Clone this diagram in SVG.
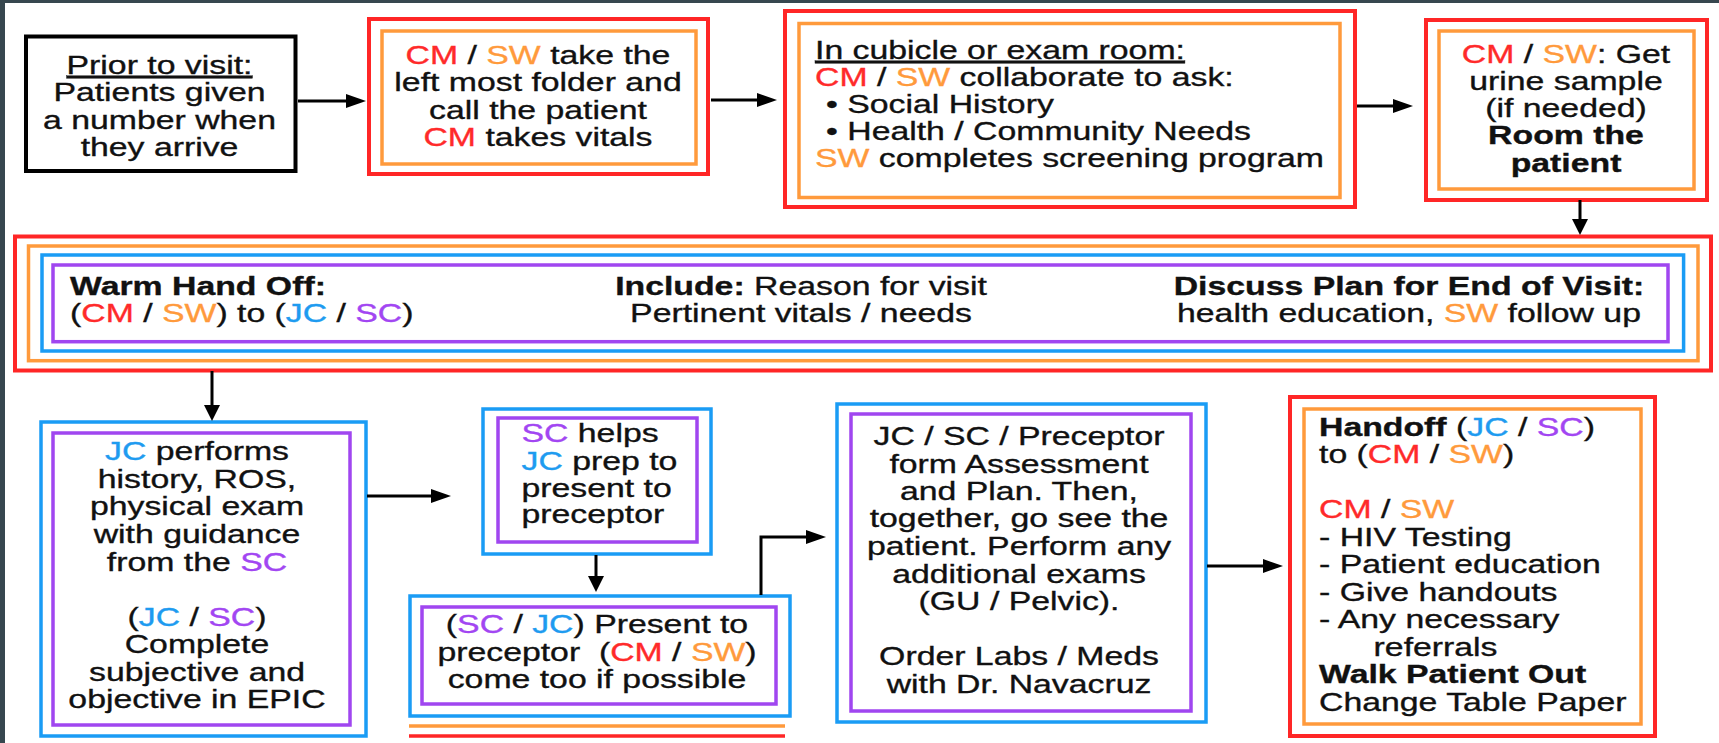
<svg xmlns="http://www.w3.org/2000/svg" width="1719" height="743" viewBox="0 0 1719 743">
<style>
text { font-family: "Liberation Sans", Arial, Helvetica, sans-serif; font-size: 26px; fill: #111; stroke: #111; stroke-width: 0.35; }
.c { text-anchor: middle; }
.b { font-weight: bold; }
.u { text-decoration: underline; }
.cm { fill: #ff2a2a; stroke: #ff2a2a; }
.sw { fill: #ff9a3c; stroke: #ff9a3c; }
.jc { fill: #1e9bf0; stroke: #1e9bf0; }
.sc { fill: #a246f2; stroke: #a246f2; }
.red { fill: none; stroke: #ff2626; stroke-width: 4; }
.org { fill: none; stroke: #ff9a3c; stroke-width: 3.5; }
.blu { fill: none; stroke: #1a9cf5; stroke-width: 3.5; }
.pur { fill: none; stroke: #a046f0; stroke-width: 3.5; }
.blk { fill: #fff; stroke: #000; stroke-width: 4; }
.conn path { fill: none; stroke: #000; stroke-width: 3; }
</style>
<defs>
<marker id="ahh" markerUnits="userSpaceOnUse" markerWidth="20" markerHeight="14" refX="14" refY="7" orient="auto"><path d="M0,0 L20,7 L0,14 z" fill="#000"/></marker>
<marker id="ahv" markerUnits="userSpaceOnUse" markerWidth="16" markerHeight="16" refX="11" refY="8" orient="auto"><path d="M0,0 L16,8 L0,16 z" fill="#000"/></marker>
</defs>
<rect x="0" y="0" width="1719" height="743" fill="#37474f"/>
<rect x="5" y="3" width="1714" height="740" fill="#fff"/>

<g id="n1">
<rect class="blk" x="26" y="36.5" width="269.5" height="134.5"/>
<g transform="translate(159.5,0) scale(1.3,1)">
<text class="c u" y="74">Prior to visit:</text>
<text class="c" y="101.5">Patients given</text>
<text class="c" y="129">a number when</text>
<text class="c" y="156">they arrive</text>
</g>
</g>

<g id="n2">
<rect class="red" x="369" y="19" width="339" height="155"/>
<rect class="org" x="382" y="31" width="314" height="133"/>
<g transform="translate(538,0) scale(1.3,1)">
<text class="c" y="64"><tspan class="cm">CM</tspan> / <tspan class="sw">SW</tspan> take the</text>
<text class="c" y="91.5">left most folder and</text>
<text class="c" y="119">call the patient</text>
<text class="c" y="146.5"><tspan class="cm">CM</tspan> takes vitals</text>
</g>
</g>

<g id="n3">
<rect class="red" x="785" y="11" width="570" height="196"/>
<rect class="org" x="799" y="23.5" width="541" height="174"/>
<g transform="translate(815,0) scale(1.3,1)">
<text class="u" y="59">In cubicle or exam room:</text>
<text y="86.5"><tspan class="cm">CM</tspan> / <tspan class="sw">SW</tspan> collaborate to ask:</text>
<text x="8.5" y="113">• Social History</text>
<text x="8.5" y="140">• Health / Community Needs</text>
<text y="167"><tspan class="sw">SW</tspan> completes screening program</text>
</g>
</g>

<g id="n4">
<rect class="red" x="1426" y="20" width="281" height="180"/>
<rect class="org" x="1439" y="31" width="255" height="158"/>
<g transform="translate(1566,0) scale(1.3,1)">
<text class="c" y="63"><tspan class="cm">CM</tspan> / <tspan class="sw">SW</tspan>: Get</text>
<text class="c" y="90">urine sample</text>
<text class="c" y="117">(if needed)</text>
<text class="c b" y="144.5">Room the</text>
<text class="c b" y="172">patient</text>
</g>
</g>

<g id="n5">
<rect class="red" x="15" y="236.5" width="1696" height="134"/>
<rect class="org" x="28.5" y="246" width="1669.5" height="114.7"/>
<rect class="blu" x="42" y="255" width="1641.6" height="96"/>
<rect class="pur" x="53" y="265" width="1615" height="76.7"/>
<g transform="translate(70,0) scale(1.3,1)">
<text class="b" y="295.5">Warm Hand Off:</text>
<text y="322.5">(<tspan class="cm">CM</tspan> / <tspan class="sw">SW</tspan>) to (<tspan class="jc">JC</tspan> / <tspan class="sc">SC</tspan>)</text>
</g>
<g transform="translate(801,0) scale(1.3,1)">
<text class="c" y="295.5"><tspan class="b">Include:</tspan> Reason for visit</text>
<text class="c" y="322.5">Pertinent vitals / needs</text>
</g>
<g transform="translate(1409,0) scale(1.3,1)">
<text class="c b" y="295.5">Discuss Plan for End of Visit:</text>
<text class="c" y="322.5">health education, <tspan class="sw">SW</tspan> follow up</text>
</g>
</g>

<g id="n6">
<rect class="blu" x="41" y="422" width="325" height="314"/>
<rect class="pur" x="53" y="433" width="297" height="292"/>
<g transform="translate(197,0) scale(1.3,1)">
<text class="c" y="460"><tspan class="jc">JC</tspan> performs</text>
<text class="c" y="488">history, ROS,</text>
<text class="c" y="515">physical exam</text>
<text class="c" y="543">with guidance</text>
<text class="c" y="571">from the <tspan class="sc">SC</tspan></text>
<text class="c" y="626">(<tspan class="jc">JC</tspan> / <tspan class="sc">SC</tspan>)</text>
<text class="c" y="653">Complete</text>
<text class="c" y="681">subjective and</text>
<text class="c" y="708">objective in EPIC</text>
</g>
</g>

<g id="n7">
<rect class="blu" x="483" y="409" width="228" height="145"/>
<rect class="pur" x="498" y="418" width="199" height="124"/>
<g transform="translate(521.5,0) scale(1.3,1)">
<text y="442"><tspan class="sc">SC</tspan> helps</text>
<text y="470"><tspan class="jc">JC</tspan> prep to</text>
<text y="497">present to</text>
<text y="523">preceptor</text>
</g>
</g>

<g id="n8">
<rect class="blu" x="410" y="596" width="380" height="120"/>
<rect class="pur" x="422" y="607" width="354" height="97"/>
<g transform="translate(597,0) scale(1.3,1)">
<text class="c" y="633">(<tspan class="sc">SC</tspan> / <tspan class="jc">JC</tspan>) Present to</text>
<text class="c" y="661" xml:space="preserve">preceptor  (<tspan class="cm">CM</tspan> / <tspan class="sw">SW</tspan>)</text>
<text class="c" y="688">come too if possible</text>
</g>
<line x1="409" y1="726" x2="785" y2="726" stroke="#ff9a3c" stroke-width="3.5"/>
<line x1="409" y1="736" x2="785" y2="736" stroke="#ff2626" stroke-width="3.5"/>
</g>

<g id="n9">
<rect class="blu" x="837" y="404" width="369" height="318"/>
<rect class="pur" x="851" y="414" width="340" height="297"/>
<g transform="translate(1019,0) scale(1.3,1)">
<text class="c" y="445">JC / SC / Preceptor</text>
<text class="c" y="473">form Assessment</text>
<text class="c" y="500">and Plan. Then,</text>
<text class="c" y="527">together, go see the</text>
<text class="c" y="555">patient. Perform any</text>
<text class="c" y="583">additional exams</text>
<text class="c" y="610">(GU / Pelvic).</text>
<text class="c" y="665">Order Labs / Meds</text>
<text class="c" y="693">with Dr. Navacruz</text>
</g>
</g>

<g id="n10">
<rect class="red" x="1290" y="397" width="365" height="339"/>
<rect class="org" x="1304" y="409" width="337" height="315"/>
<g transform="translate(1319,0) scale(1.3,1)">
<text y="436"><tspan class="b">Handoff</tspan> (<tspan class="jc">JC</tspan> / <tspan class="sc">SC</tspan>)</text>
<text y="463.5">to (<tspan class="cm">CM</tspan> / <tspan class="sw">SW</tspan>)</text>
<text y="518.5"><tspan class="cm">CM</tspan> / <tspan class="sw">SW</tspan></text>
<text y="546">- HIV Testing</text>
<text y="573.5">- Patient education</text>
<text y="601">- Give handouts</text>
<text y="628.5">- Any necessary</text>
<text x="42" y="656">referrals</text>
<text class="b" y="683.5">Walk Patient Out</text>
<text y="711">Change Table Paper</text>
</g>
</g>

<g id="connectors" class="conn">
<path d="M298,101 H360" marker-end="url(#ahh)"/>
<path d="M711,100 H771" marker-end="url(#ahh)"/>
<path d="M1357,106 H1407" marker-end="url(#ahh)"/>
<path d="M1580,200 V230" marker-end="url(#ahv)"/>
<path d="M212,371 V416" marker-end="url(#ahv)"/>
<path d="M367,496 H445" marker-end="url(#ahh)"/>
<path d="M596,555 V587" marker-end="url(#ahv)"/>
<path d="M761,595 V537 H820" marker-end="url(#ahh)"/>
<path d="M1207,566 H1277" marker-end="url(#ahh)"/>
</g>
</svg>
